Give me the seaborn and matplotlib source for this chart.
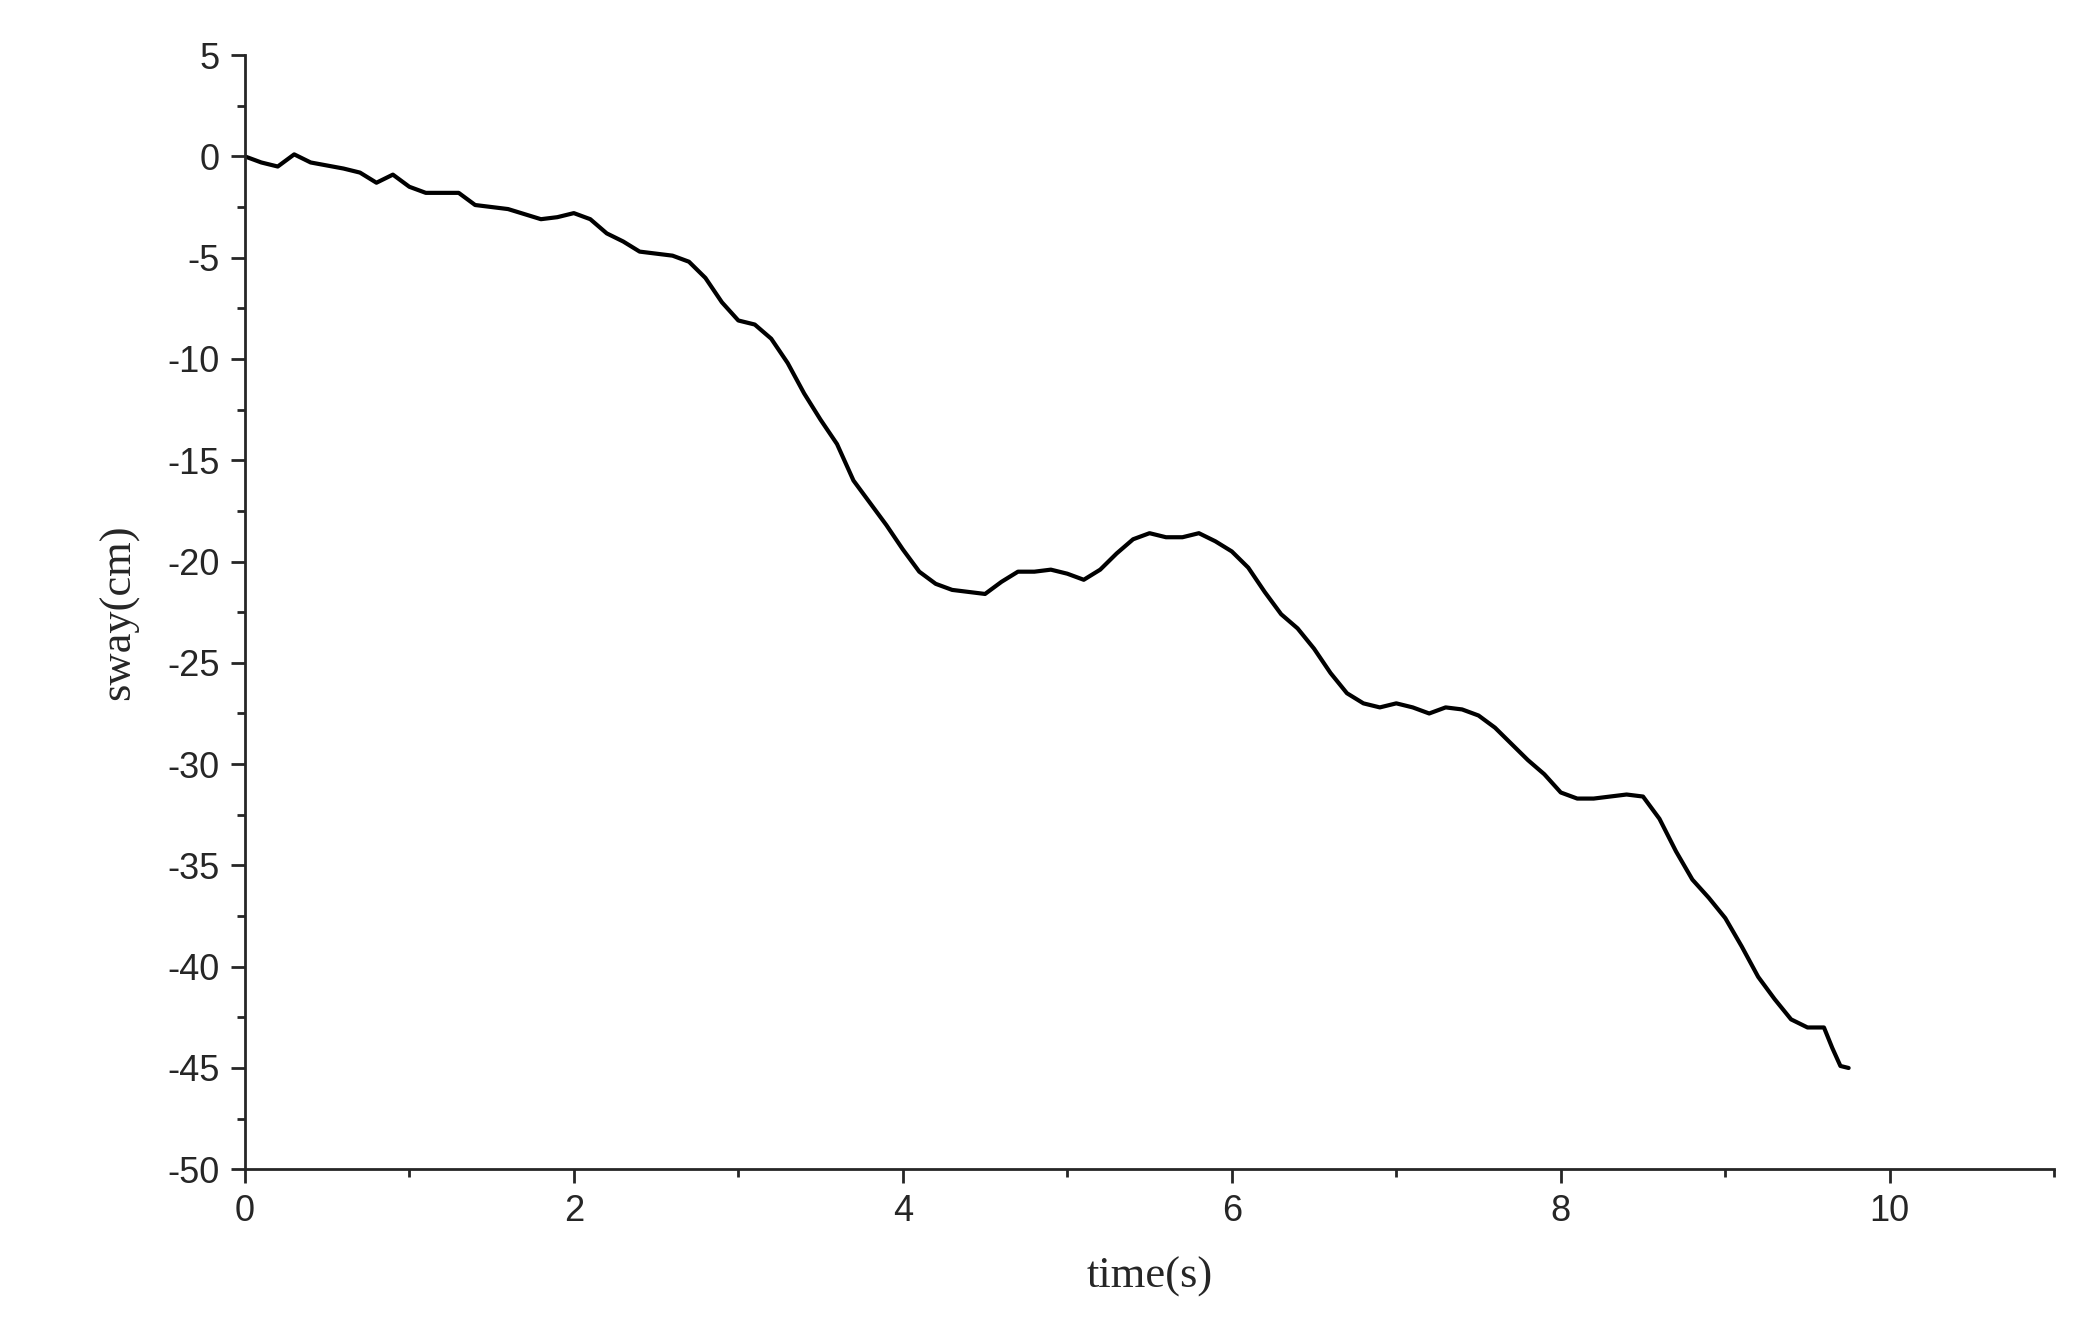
import matplotlib
matplotlib.use("Agg")
import matplotlib.pyplot as plt
import seaborn as sns
import pandas as pd
from matplotlib.ticker import MultipleLocator

time_s = [0, 0.1, 0.2, 0.3, 0.4, 0.6, 0.7, 0.8, 0.9, 1.0, 1.1, 1.3, 1.4, 1.6, 1.8, 1.9, 2.0, 2.1, 2.2, 2.3, 2.4, 2.6, 2.7, 2.8, 2.9, 3.0, 3.1, 3.2, 3.3, 3.4, 3.5, 3.6, 3.7, 3.8, 3.9, 4.0, 4.1, 4.2, 4.3, 4.4, 4.5, 4.6, 4.7, 4.8, 4.9, 5.0, 5.1, 5.2, 5.3, 5.4, 5.5, 5.6, 5.7, 5.8, 5.9, 6.0, 6.1, 6.2, 6.3, 6.4, 6.5, 6.6, 6.7, 6.8, 6.9, 7.0, 7.1, 7.2, 7.3, 7.4, 7.5, 7.6, 7.7, 7.8, 7.9, 8.0, 8.1, 8.2, 8.3, 8.4, 8.5, 8.6, 8.7, 8.8, 8.9, 9.0, 9.1, 9.2, 9.3, 9.4, 9.5, 9.6, 9.65, 9.7, 9.75]
sway_cm = [0, -0.3, -0.5, 0.1, -0.3, -0.6, -0.8, -1.3, -0.9, -1.5, -1.8, -1.8, -2.4, -2.6, -3.1, -3.0, -2.8, -3.1, -3.8, -4.2, -4.7, -4.9, -5.2, -6.0, -7.2, -8.1, -8.3, -9.0, -10.2, -11.7, -13.0, -14.2, -16.0, -17.1, -18.2, -19.4, -20.5, -21.1, -21.4, -21.5, -21.6, -21.0, -20.5, -20.5, -20.4, -20.6, -20.9, -20.4, -19.6, -18.9, -18.6, -18.8, -18.8, -18.6, -19.0, -19.5, -20.3, -21.5, -22.6, -23.3, -24.3, -25.5, -26.5, -27.0, -27.2, -27.0, -27.2, -27.5, -27.2, -27.3, -27.6, -28.2, -29.0, -29.8, -30.5, -31.4, -31.7, -31.7, -31.6, -31.5, -31.6, -32.7, -34.3, -35.7, -36.6, -37.6, -39.0, -40.5, -41.6, -42.6, -43.0, -43.0, -44.0, -44.9, -45.0]

sns.set_style("ticks")
plt.rcParams["axes.unicode_minus"] = False
df = pd.DataFrame({"t": time_s, "s": sway_cm})
fig = plt.figure(figsize=(20.75, 13.44), dpi=100)
ax = fig.add_axes([0.118, 0.13, 0.872, 0.829])
sns.lineplot(data=df, x="t", y="s", ax=ax, color="black", linewidth=3)
ax.set_xlim(0, 11)
ax.set_ylim(-50, 5)
ax.xaxis.set_major_locator(MultipleLocator(2))
ax.xaxis.set_minor_locator(MultipleLocator(1))
ax.yaxis.set_major_locator(MultipleLocator(5))
ax.yaxis.set_minor_locator(MultipleLocator(2.5))
ax.tick_params(which="major", direction="out", length=10, width=2, labelsize=26, pad=8)
ax.tick_params(which="minor", direction="out", length=6, width=2)
for lab in ax.get_xticklabels() + ax.get_yticklabels():
    lab.set_fontfamily("Liberation Sans")
for sp in ["left", "bottom"]:
    ax.spines[sp].set_linewidth(2)
ax.spines["top"].set_visible(False)
ax.spines["right"].set_visible(False)
ax.set_xlabel("time(s)", fontsize=32, family="Liberation Serif", labelpad=20)
ax.set_ylabel("sway(cm)", fontsize=32, family="Liberation Serif", labelpad=20)
fig.savefig("out.png", dpi=100)
